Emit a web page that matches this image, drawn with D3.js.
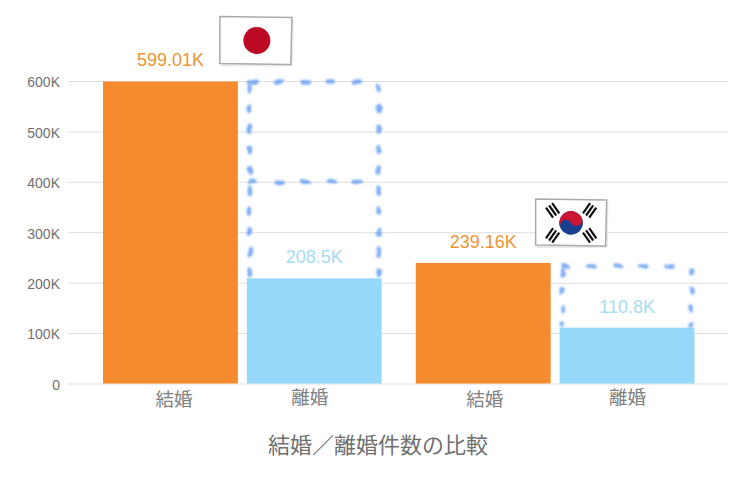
<!DOCTYPE html>
<html lang="ja">
<head>
<meta charset="utf-8">
<script src="https://cdn.jsdelivr.net/npm/d3@7"></script>
<style>
html,body{margin:0;padding:0;background:#fff}
svg{display:block}
</style>
</head>
<body>
<svg id="c" width="752" height="480"></svg>
<script>
const groups = ["日本", "韓国"];
const types = ["結婚", "離婚"];
const marriages = [599010, 239160];
const divorces = [208500, 110800];
const marriageLabels = ["599.01K", "239.16K"];
const divorceLabels = ["208.5K", "110.8K"];
const yTicks = [0, 100000, 200000, 300000, 400000, 500000, 600000];
const yTickLabels = ["0", "100K", "200K", "300K", "400K", "500K", "600K"];
const dashedMid = [400000, null];
const title = "結婚／離婚件数の比較";

const colors = { "結婚": "#f58b2e", "離婚": "#95d8fa" };
const labelColors = { "結婚": "#ee9433", "離婚": "#a5dcf6" };
const svg = d3.select("#c");
const sans = "'Liberation Sans', Arial, sans-serif";
const cjk = "'Noto Sans CJK JP', sans-serif";

const y = d3.scaleLinear().domain([0, 600000]).range([383.5, 81]);
const x0 = d3.scaleBand().domain(groups).range([103, 694.5]).paddingInner(0.109);
const x1 = d3.scaleBand().domain(types).range([0, x0.bandwidth()]).paddingInner(0.0625);
const xAt = (g, t) => x0(g) + x1(t);

// Axis
const yAxis = d3.axisLeft(y).tickValues(yTicks)
  .tickFormat((d, i) => yTickLabels[i]).tickSize(-660).tickPadding(8);
const axisG = svg.append("g").attr("transform", "translate(68,0)").call(yAxis);
axisG.select(".domain").remove();
axisG.selectAll(".tick line").attr("stroke", "#dedede").attr("stroke-width", 1);
axisG.selectAll(".tick text").attr("fill", "#707070").attr("font-family", sans).attr("font-size", 14).attr("dy", "0.42em");

// Bars
const rows = groups.flatMap((g, i) => [
  { g, t: "結婚", v: marriages[i], label: marriageLabels[i] },
  { g, t: "離婚", v: divorces[i], label: divorceLabels[i] }
]);
svg.append("g").selectAll("rect").data(rows).join("rect")
  .attr("x", d => xAt(d.g, d.t))
  .attr("width", x1.bandwidth())
  .attr("y", d => y(d.v))
  .attr("height", d => y(0) - y(d.v))
  .attr("fill", d => colors[d.t]);

// Value labels
svg.append("g").selectAll("text").data(rows).join("text")
  .attr("x", d => xAt(d.g, d.t) + x1.bandwidth() / 2)
  .attr("y", d => y(d.v) - 15)
  .attr("text-anchor", "middle")
  .attr("font-family", sans).attr("font-size", 18)
  .attr("fill", d => labelColors[d.t])
  .text(d => d.label);

// Hand-drawn dashed gap boxes
const defs = svg.append("defs");
const soft = defs.append("filter").attr("id", "soft")
  .attr("filterUnits", "userSpaceOnUse").attr("x", 0).attr("y", 0).attr("width", 752).attr("height", 480);
soft.append("feTurbulence").attr("type", "fractalNoise").attr("baseFrequency", 0.09)
  .attr("numOctaves", 2).attr("seed", 4).attr("result", "n");
soft.append("feDisplacementMap").attr("in", "SourceGraphic").attr("in2", "n")
  .attr("scale", 5).attr("xChannelSelector", "R").attr("yChannelSelector", "G").attr("result", "d");
soft.append("feGaussianBlur").attr("in", "d").attr("stdDeviation", 0.8);
const flagShadow = defs.append("filter").attr("id", "fshadow");
flagShadow.append("feGaussianBlur").attr("stdDeviation", 0.5);

const dashG = svg.append("g").attr("filter", "url(#soft)")
  .attr("stroke", "#6ea2f4").attr("stroke-width", 4.4)
  .attr("stroke-linecap", "round").attr("fill", "none").attr("opacity", 0.9);
groups.forEach((g, i) => {
  const l = xAt(g, "離婚") + 3;
  const r = l + x1.bandwidth() - 6;
  const top = y(marriages[i]) + (i === 1 ? 3.5 : 0);
  const bot = y(divorces[i]) - 3;
  const seg = (x1_, y1_, x2_, y2_, dash) => dashG.append("line")
    .attr("x1", x1_).attr("y1", y1_).attr("x2", x2_).attr("y2", y2_)
    .attr("stroke-dasharray", dash);
  seg(l, top, r, top, "6 20");
  seg(l, top + 4, l, bot, i === 0 ? "5 15.5" : "4 14");
  seg(r, top + 4, r, bot, i === 0 ? "5 15.5" : "4 14");
  if (dashedMid[i] !== null) seg(l, y(dashedMid[i]), r, y(dashedMid[i]), "6 20");
});

// Flags
function flagFrame(g, w, h) {
  g.append("polygon").attr("points", `2,2 ${w + 2},3 ${w + 1},${h + 2} 1,${h + 2}`)
    .attr("fill", "#ddd").attr("opacity", 0.6).attr("filter", "url(#fshadow)");
  g.append("polygon").attr("points", `0,0 ${w},1 ${w - 1},${h} 0,${h - 1}`)
    .attr("fill", "#fff").attr("stroke", "#aaa").attr("stroke-width", 1.5);
}
const jp = svg.append("g").attr("transform", `translate(${xAt("日本","離婚") - 27},${y(599010) - 65})`);
flagFrame(jp, 72, 48);
jp.append("circle").attr("cx", 37).attr("cy", 24).attr("r", 13.5).attr("fill", "#bc0a26");

const kr = svg.append("g").attr("transform", `translate(${xAt("韓国","離婚") - 24},${y(239160) - 64})`);
flagFrame(kr, 71, 47);
const kc = kr.append("g").attr("transform", "translate(35.5,24) rotate(-28)");
const R = 11.8;
kc.append("circle").attr("r", R).attr("fill", "#173f8f");
kc.append("path").attr("d", `M${-R},0 A${R},${R} 0 0 1 ${R},0 A${R/2},${R/2} 0 0 1 0,0 A${R/2},${R/2} 0 0 0 ${-R},0 Z`).attr("fill", "#cc1433");
[[-18.5,-12.5,-35],[18.5,-12.5,35],[-18.5,12.5,35],[18.5,12.5,-35]].forEach(([dx, dy, rot]) => {
  const t = kr.append("g").attr("transform", `translate(${35.5 + dx},${24 + dy}) rotate(${rot})`);
  [-3.8, 0, 3.8].forEach(o => t.append("rect").attr("x", o - 1.1).attr("y", -6.2).attr("width", 2.2).attr("height", 12.4).attr("fill", "#111"));
});

// Category labels
const catDx = { "結婚": [3.5, 1.5], "離婚": [-4.5, 0.5] };
const catY = { "結婚": 406, "離婚": 404 };
svg.append("g").selectAll("text").data(rows).join("text")
  .attr("x", d => xAt(d.g, d.t) + x1.bandwidth() / 2 + catDx[d.t][groups.indexOf(d.g)])
  .attr("y", d => catY[d.t])
  .attr("text-anchor", "middle")
  .attr("font-family", cjk).attr("font-size", 18.5)
  .attr("fill", "#808080")
  .text(d => d.t);

// Title
svg.append("text").attr("x", 378).attr("y", 453)
  .attr("text-anchor", "middle")
  .attr("font-family", cjk).attr("font-size", 22)
  .attr("fill", "#707070").text(title);
</script>
</body>
</html>
